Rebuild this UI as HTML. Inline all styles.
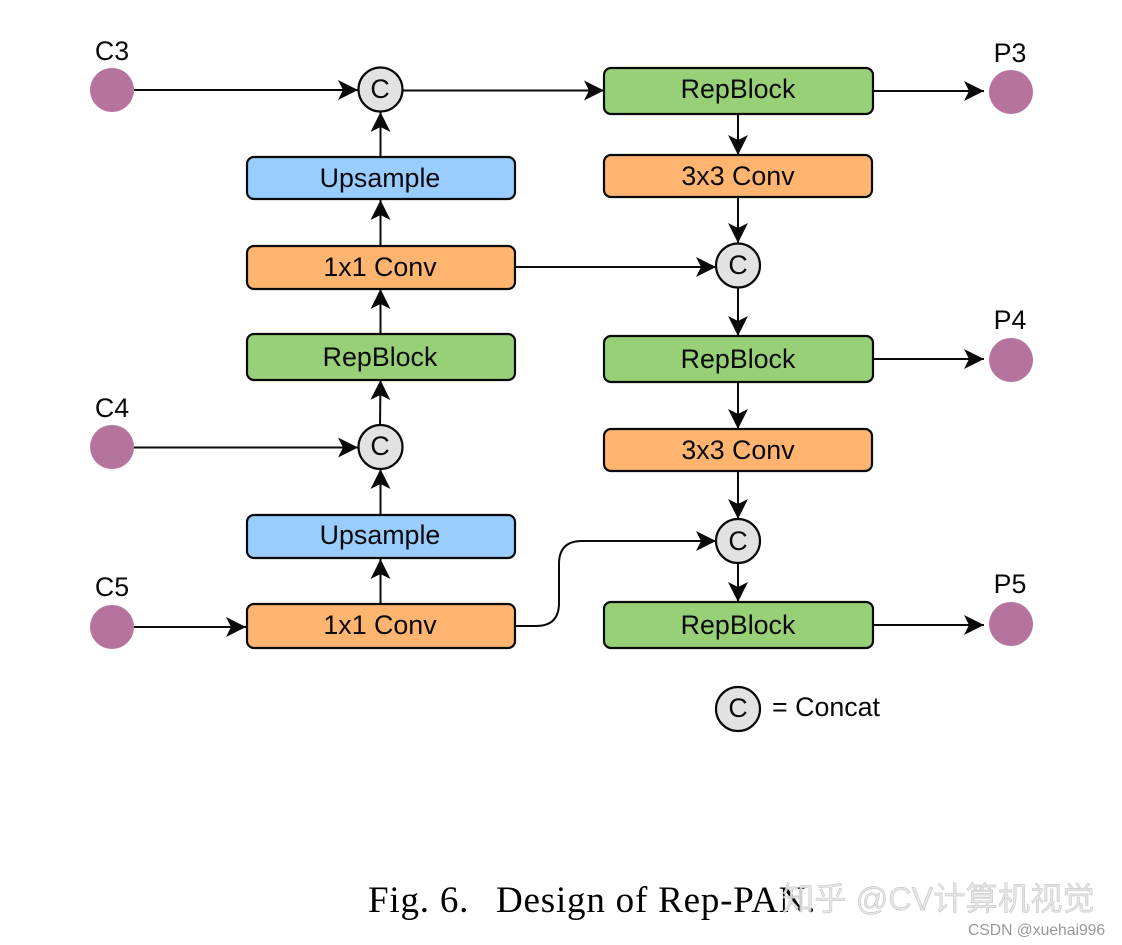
<!DOCTYPE html>
<html><head><meta charset="utf-8"><style>
html,body{margin:0;padding:0;background:#fff;width:1122px;height:945px;overflow:hidden}
svg{display:block}
.t{font-family:"Liberation Sans",sans-serif;font-size:26.8px;fill:#0a0a0a;text-anchor:middle}
.l{font-family:"Liberation Sans",sans-serif;font-size:26.8px;fill:#0a0a0a;text-anchor:middle}
.b{stroke:#0a0a0a;stroke-width:2.2}
.c{fill:#e2e2e2;stroke:#0a0a0a;stroke-width:2.2}
.p{fill:#b5739d}
.e{fill:none;stroke:#0a0a0a;stroke-width:2}
</style></head><body>
<svg width="1122" height="945" viewBox="0 0 1122 945" xmlns="http://www.w3.org/2000/svg">
<defs><marker id="a" markerUnits="userSpaceOnUse" markerWidth="22" markerHeight="22" refX="20" refY="10" orient="auto"><path d="M0,0 L20,10 L0,20 L5,10 Z" fill="#0a0a0a"/></marker></defs>

<!-- edges -->
<g class="e">
<path class="e" marker-end="url(#a)" d="M134,90 H358"/>
<path class="e" marker-end="url(#a)" d="M403,90.500 H604"/>
<path class="e" marker-end="url(#a)" d="M873,91 H984"/>
<path class="e" marker-end="url(#a)" d="M380.500,157 V112"/>
<path class="e" marker-end="url(#a)" d="M380.500,246 V200"/>
<path class="e" marker-end="url(#a)" d="M380.500,334 V289"/>
<path class="e" marker-end="url(#a)" d="M380,425 L380.500,380"/>
<path class="e" marker-end="url(#a)" d="M380.500,515 V469"/>
<path class="e" marker-end="url(#a)" d="M380.500,604 V559"/>
<path class="e" marker-end="url(#a)" d="M134,447.500 H358"/>
<path class="e" marker-end="url(#a)" d="M134,627 H246"/>
<path class="e" marker-end="url(#a)" d="M515,267 H716"/>
<path class="e" marker-end="url(#a)" d="M738,115 V155"/>
<path class="e" marker-end="url(#a)" d="M738,197 V243"/>
<path class="e" marker-end="url(#a)" d="M738,288 V336"/>
<path class="e" marker-end="url(#a)" d="M738,382 V429"/>
<path class="e" marker-end="url(#a)" d="M738,471 V519"/>
<path class="e" marker-end="url(#a)" d="M738,563 V602"/>
<path class="e" marker-end="url(#a)" d="M873,359 H984"/>
<path class="e" marker-end="url(#a)" d="M873,625 H984"/>
<path class="e" marker-end="url(#a)" d="M515,626 H536 Q559,626 559,603 V564 Q559,541 582,541 H716"/>
</g>

<!-- circles -->
<circle class="p" cx="112" cy="90" r="22"/>
<circle class="p" cx="112" cy="447" r="22"/>
<circle class="p" cx="112" cy="627" r="22"/>
<circle class="p" cx="1011" cy="92" r="22"/>
<circle class="p" cx="1011" cy="360" r="22"/>
<circle class="p" cx="1011" cy="624" r="22"/>

<!-- left boxes -->
<rect class="b" x="247" y="157" width="268" height="42" rx="7" fill="#99ccff"/>
<rect class="b" x="247" y="246" width="268" height="43" rx="7" fill="#ffb570"/>
<rect class="b" x="247" y="334" width="268" height="46" rx="7" fill="#97d077"/>
<rect class="b" x="247" y="515" width="268" height="43" rx="7" fill="#99ccff"/>
<rect class="b" x="247" y="604" width="268" height="44" rx="7" fill="#ffb570"/>

<!-- right boxes -->
<rect class="b" x="604" y="68" width="269" height="46" rx="7" fill="#97d077"/>
<rect class="b" x="604" y="155" width="268" height="42" rx="7" fill="#ffb570"/>
<rect class="b" x="604" y="336" width="269" height="46" rx="7" fill="#97d077"/>
<rect class="b" x="604" y="429" width="268" height="42" rx="7" fill="#ffb570"/>
<rect class="b" x="604" y="602" width="269" height="46" rx="7" fill="#97d077"/>

<!-- concat -->
<circle class="c" cx="380.500" cy="89.500" r="22"/>
<circle class="c" cx="380.500" cy="447" r="22"/>
<circle class="c" cx="738" cy="265.500" r="22"/>
<circle class="c" cx="738" cy="541" r="22"/>
<circle class="c" cx="738" cy="709" r="22"/>

<text class="t" x="380" y="98">C</text>
<text class="t" x="380" y="455">C</text>
<text class="t" x="738" y="274">C</text>
<text class="t" x="738" y="550">C</text>
<text class="t" x="738" y="717">C</text>

<text class="t" x="380" y="187">Upsample</text>
<text class="t" x="380" y="276">1x1 Conv</text>
<text class="t" x="380" y="366">RepBlock</text>
<text class="t" x="380" y="544">Upsample</text>
<text class="t" x="380" y="634">1x1 Conv</text>
<text class="t" x="738" y="98">RepBlock</text>
<text class="t" x="738" y="185">3x3 Conv</text>
<text class="t" x="738" y="368">RepBlock</text>
<text class="t" x="738" y="459">3x3 Conv</text>
<text class="t" x="738" y="634">RepBlock</text>

<text class="l" x="112" y="60">C3</text>
<text class="l" x="112" y="417">C4</text>
<text class="l" x="112" y="596">C5</text>
<text class="l" x="1010" y="62">P3</text>
<text class="l" x="1010" y="329">P4</text>
<text class="l" x="1010" y="593">P5</text>
<text x="772" y="716" font-family="'Liberation Sans',sans-serif" font-size="26.8" fill="#0a0a0a">= Concat</text>

<text x="368" y="912" font-family="'Liberation Serif',serif" font-size="37" letter-spacing="0.8" fill="#000">Fig. 6.</text>
<text x="496" y="912" font-family="'Liberation Serif',serif" font-size="37" letter-spacing="0.8" fill="#000">Design of Rep-PAN.</text>

<text x="782" y="910" font-family="'Liberation Sans','Noto Sans CJK SC',sans-serif" font-size="32.300" fill="#e2e2e2" stroke="#bbb" stroke-width="0.4" fill-opacity="0.9">知乎 @CV计算机视觉</text>
<text x="968" y="935" font-family="'Liberation Sans',sans-serif" font-size="15.700" fill="#999">CSDN @xuehai996</text>
</svg>
</body></html>
